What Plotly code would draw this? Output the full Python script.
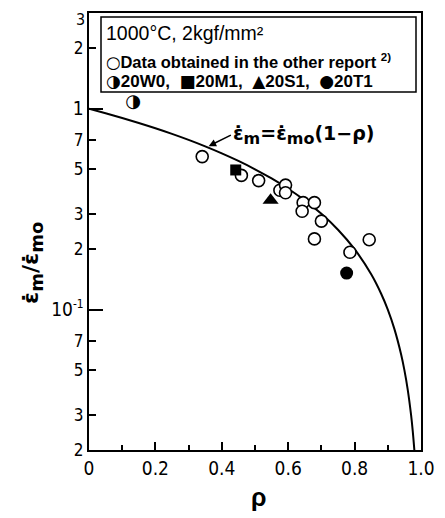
import plotly.graph_objects as go
import math

# ---- data ----
other_rho = [0.341, 0.459, 0.511, 0.575, 0.592, 0.592, 0.645, 0.679, 0.642, 0.700, 0.679, 0.786, 0.844]
other_val = [0.578, 0.466, 0.439, 0.393, 0.417, 0.382, 0.341, 0.341, 0.309, 0.276, 0.225, 0.193, 0.223]

w0_rho, w0_val = [0.133], [1.07]     # 20W0 (half filled circle)
m1_rho, m1_val = [0.442], [0.496]    # 20M1 (square)
s1_rho, s1_val = [0.547], [0.351]    # 20S1 (triangle)
t1_rho, t1_val = [0.776], [0.152]    # 20T1 (filled circle)

# curve em = emo (1 - rho)
curve_rho = [0.0, 0.05, 0.1, 0.15, 0.2, 0.25, 0.3, 0.35, 0.4, 0.45, 0.5, 0.55, 0.6,
             0.65, 0.7, 0.75, 0.8, 0.85, 0.88, 0.9, 0.92, 0.94, 0.95, 0.96, 0.97, 0.975, 0.98]
curve_val = [1.0, 0.95, 0.9, 0.85, 0.8, 0.75, 0.7, 0.65, 0.6, 0.55, 0.5, 0.45, 0.4,
             0.35, 0.3, 0.25, 0.2, 0.15, 0.12, 0.1, 0.08, 0.06, 0.05, 0.04, 0.03, 0.025, 0.02]

x_ticks = [0, 0.2, 0.4, 0.6, 0.8, 1.0]
x_labels = ["0", "0.2", "0.4", "0.6", "0.8", "1.0"]
x_minor = [0.1, 0.3, 0.5, 0.7, 0.9]
y_ticks = [0.02, 0.03, 0.05, 0.07, 0.1, 0.2, 0.3, 0.5, 0.7, 1, 2, 3]
y_labels = ["2", "3", "5", "7", "<span style=\"font-size:19px\">10</span><sup>-1</sup>",
            "2", "3", "5", "7", "<span style=\"font-size:19px\">1</span>", "2", ""]
y_top_label = "3"   # label of the top tick (3), drawn separately so it stays inside the page
y_major = [0.1, 1]

NARROW = "Liberation Sans Narrow, DejaVu Sans Condensed, Arial Narrow, sans-serif"
BOLD = "Liberation Sans, Arial, Helvetica, sans-serif"
DJ = "DejaVu Sans"

fig = go.Figure()
fig.add_trace(go.Scatter(x=curve_rho, y=curve_val, mode="lines",
                         line=dict(color="black", width=2, shape="spline"), hoverinfo="skip"))
fig.add_trace(go.Scatter(x=other_rho, y=other_val, mode="markers",
                         marker=dict(symbol="circle", size=12, color="white",
                                     line=dict(color="black", width=1.6))))
fig.add_trace(go.Scatter(x=w0_rho, y=w0_val, mode="text", text=["◑"],
                         textfont=dict(size=18, color="black", family=DJ)))
fig.add_trace(go.Scatter(x=m1_rho, y=m1_val, mode="markers",
                         marker=dict(symbol="square", size=11, color="black")))
fig.add_trace(go.Scatter(x=s1_rho, y=s1_val, mode="markers",
                         marker=dict(symbol="triangle-up", size=14, color="black")))
fig.add_trace(go.Scatter(x=t1_rho, y=t1_val, mode="markers",
                         marker=dict(symbol="circle", size=13, color="black")))

# the page body has an 8px margin, so the figure is shrunk and margins shifted by 8px
# plot area on screen: x 89..421, y 13..450
fig.update_layout(
    width=437, height=510,
    margin=dict(l=81, r=24, t=5, b=68),
    paper_bgcolor="white", plot_bgcolor="white",
    showlegend=False,
    xaxis=dict(range=[0, 1.0], tickvals=x_ticks, ticktext=x_labels, automargin=False,
               ticklabeloverflow="allow",
               ticks="inside", ticklen=8, tickwidth=1.5, tickcolor="black",
               showline=True, linecolor="black", linewidth=2, mirror=True,
               showgrid=False, zeroline=False,
               tickfont=dict(family=NARROW, size=19, color="black"),
               minor=dict(tickvals=x_minor, ticks="inside", ticklen=5,
                          tickwidth=1.5, tickcolor="black", showgrid=False)),
    yaxis=dict(type="log", range=[math.log10(0.02), math.log10(3)], automargin=False,
               ticklabeloverflow="allow",
               tickvals=y_ticks, ticktext=y_labels,
               ticks="inside", ticklen=7, tickwidth=1.5, tickcolor="black",
               showline=True, linecolor="black", linewidth=2, mirror=True,
               showgrid=False, zeroline=False,
               tickfont=dict(family=NARROW, size=17, color="black"),
               minor=dict(tickvals=y_major, ticks="inside", ticklen=14,
                          tickwidth=1.5, tickcolor="black", showgrid=False)),
)

def px_x(p):
    return (p - 89) / 332

def px_y(p):
    return (450 - p) / 437

# top tick label "3" (box top aligned with the page top)
fig.add_annotation(xref="paper", yref="paper", x=0, y=1,
                   xanchor="right", yanchor="top", xshift=-2, yshift=5,
                   showarrow=False, text=y_top_label,
                   font=dict(family=NARROW, size=16, color="black"))

# legend box
fig.add_shape(type="rect", xref="paper", yref="paper",
              x0=px_x(101), x1=px_x(416), y0=px_y(92), y1=px_y(17),
              line=dict(color="black", width=1.5), fillcolor="white", layer="above")
fig.add_annotation(xref="paper", yref="paper", x=px_x(104), y=px_y(33),
                   xanchor="left", yanchor="middle", showarrow=False,
                   text="1000°C, 2kgf/mm²",
                   font=dict(family=BOLD, size=19.5, color="black"))
fig.add_annotation(xref="paper", yref="paper", x=px_x(104), y=px_y(62),
                   xanchor="left", yanchor="middle", showarrow=False,
                   text=("<span style=\"font-family:DejaVu Sans\">○</span>"
                         "<b>Data obtained in the other report</b> <b><sup>2)</sup></b>"),
                   font=dict(family=BOLD, size=16.5, color="black"))
fig.add_annotation(xref="paper", yref="paper", x=px_x(104), y=px_y(81),
                   xanchor="left", yanchor="middle", showarrow=False,
                   text=("<span style=\"font-family:DejaVu Sans\">◑</span><b>20W0,  </b>"
                         "<span style=\"font-family:DejaVu Sans\">■</span><b>20M1,  </b>"
                         "<span style=\"font-family:DejaVu Sans\">▲</span><b>20S1,  </b>"
                         "<span style=\"font-family:DejaVu Sans\">●</span><b>20T1</b>"),
                   font=dict(family=BOLD, size=17, color="black"))

# equation annotation with arrow
fig.add_annotation(x=0.355, y=math.log10(0.645), xref="x", yref="y",
                   ax=24, ay=-12, xanchor="left", yanchor="middle",
                   showarrow=True, arrowhead=2, arrowsize=1, arrowwidth=1.5,
                   arrowcolor="black", standoff=2,
                   text=("<b>ε̇<sub><span style=\"font-size:16px\">m</span></sub>=ε̇"
                         "<sub><span style=\"font-size:16px\">mo</span></sub>(1−ρ)</b>"),
                   font=dict(family=DJ, size=19, color="black"))

# axis titles
fig.add_annotation(xref="paper", yref="paper", x=px_x(33), y=px_y(263),
                   textangle=-90, showarrow=False, xanchor="center", yanchor="middle",
                   text=("<b>ε̇<sub><span style=\"font-size:18px\">m</span></sub>/ε̇"
                         "<sub><span style=\"font-size:18px\">mo</span></sub></b>"),
                   font=dict(family=DJ, size=22, color="black"))
fig.add_annotation(xref="paper", yref="paper", x=px_x(258), y=px_y(497),
                   showarrow=False, xanchor="center", yanchor="middle",
                   text="<b>ρ</b>",
                   font=dict(family=BOLD, size=25, color="black"))

fig.write_html("out.html")
